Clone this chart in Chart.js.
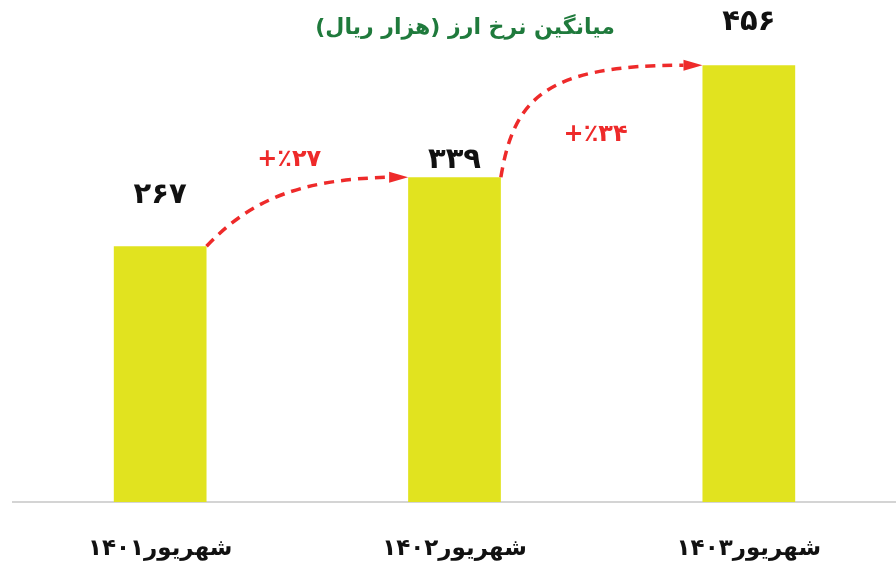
<!DOCTYPE html>
<html><head><meta charset="utf-8">
<script src="https://cdn.jsdelivr.net/npm/chart.js@4.4.1/dist/chart.umd.min.js"></script>
<style>html,body{margin:0;padding:0;background:#fff}#wrap{width:896px;height:574px}</style>
</head><body><div id="wrap"><canvas id="c" width="896" height="574"></canvas></div>
<script>
const categories = ['شهریور۱۴۰۱', 'شهریور۱۴۰۲', 'شهریور۱۴۰۳'];
const values = [267, 339, 456];
const valueLabels = ['۲۶۷', '۳۳۹', '۴۵۶'];
const changeLabels = ['+٪۲۷', '+٪۳۴'];
const titleText = 'میانگین نرخ ارز (هزار ریال)';

const FONT = '"DejaVu Sans", sans-serif';

const overlay = {
  id: 'overlay',
  afterDatasetsDraw(chart, args, opts) {
    const ctx = chart.ctx;
    const meta = chart.getDatasetMeta(0);
    const ys = chart.scales.y;
    const bars = meta.data.map(b => {
      const p = b.getProps(['x', 'y', 'width'], true);
      return { left: p.x - p.width / 2, right: p.x + p.width / 2, x: p.x, top: p.y };
    });
    ctx.save();
    // value labels
    ctx.fillStyle = '#111';
    ctx.font = 'bold 29px ' + FONT;
    ctx.textAlign = 'center';
    ctx.textBaseline = 'middle';
    bars.forEach((b, i) => {
      ctx.fillText(valueLabels[i], b.x, ys.getPixelForValue(values[i]) - opts.valueOffsets[i]);
    });
    // arrows
    opts.arrows.forEach((a, i) => {
      const A = { x: bars[i].right, y: bars[i].top };
      const B = { x: bars[i + 1].left, y: bars[i + 1].top };
      const dx = B.x - A.x, dy = B.y - A.y;
      const headLen = 19, headHalf = 5.5;
      const c1 = { x: A.x + a.c1[0] * dx, y: A.y + a.c1[1] * dy };
      const c2 = { x: A.x + a.c2[0] * dx, y: A.y + a.c2[1] * dy };
      const E = { x: B.x - headLen, y: B.y };
      ctx.strokeStyle = '#ee2a2a';
      ctx.lineWidth = 3.5;
      ctx.setLineDash([10, 7]);
      ctx.beginPath();
      ctx.moveTo(A.x, A.y);
      ctx.bezierCurveTo(c1.x, c1.y, c2.x, c2.y, E.x, E.y);
      ctx.stroke();
      ctx.setLineDash([]);
      ctx.fillStyle = '#ee2a2a';
      ctx.beginPath();
      ctx.moveTo(B.x, B.y);
      ctx.lineTo(E.x, E.y - headHalf);
      ctx.lineTo(E.x, E.y + headHalf);
      ctx.closePath();
      ctx.fill();
      // change label
      ctx.font = 'bold 24px ' + FONT;
      ctx.direction = 'ltr';
      ctx.textAlign = 'center';
      ctx.textBaseline = 'middle';
      ctx.fillText(changeLabels[i], A.x + a.label[0] * dx, B.y + a.label[1]);
    });
    // title
    ctx.fillStyle = '#1f7a3c';
    ctx.font = 'bold 22px ' + FONT;
    ctx.direction = 'rtl';
    ctx.textAlign = 'center';
    ctx.textBaseline = 'middle';
    ctx.fillText(titleText, opts.titleX, opts.titleY);
    ctx.restore();
  }
};

new Chart(document.getElementById('c'), {
  type: 'bar',
  data: {
    labels: categories,
    datasets: [{
      data: values,
      backgroundColor: '#e1e31f',
      borderWidth: 0,
      barPercentage: 0.315,
      categoryPercentage: 1
    }]
  },
  options: {
    responsive: false,
    animation: false,
    layout: { padding: { left: 13, right: 0, top: 23, bottom: 0 } },
    plugins: {
      legend: { display: false },
      tooltip: { enabled: false },
      overlay: {
        valueOffsets: [51, 17, 43],
        titleX: 465, titleY: 28,
        arrows: [
          { c1: [0.22, 0.68], c2: [0.47, 0.97], label: [0.41, -17] },
          { c1: [0.064, 0.69], c2: [0.21, 1.0], label: [0.47, 70] }
        ]
      }
    },
    scales: {
      x: {
        grid: { display: false, drawTicks: false },
        border: { display: true, color: '#d4d4d4', width: 2 },
        ticks: { color: '#111', padding: 33, font: { family: FONT, size: 23, weight: 'bold' } },
        afterFit(scale) { scale.height = 72; }
      },
      y: {
        display: false,
        min: 0, max: 500
      }
    }
  },
  plugins: [overlay]
});
</script></body></html>
